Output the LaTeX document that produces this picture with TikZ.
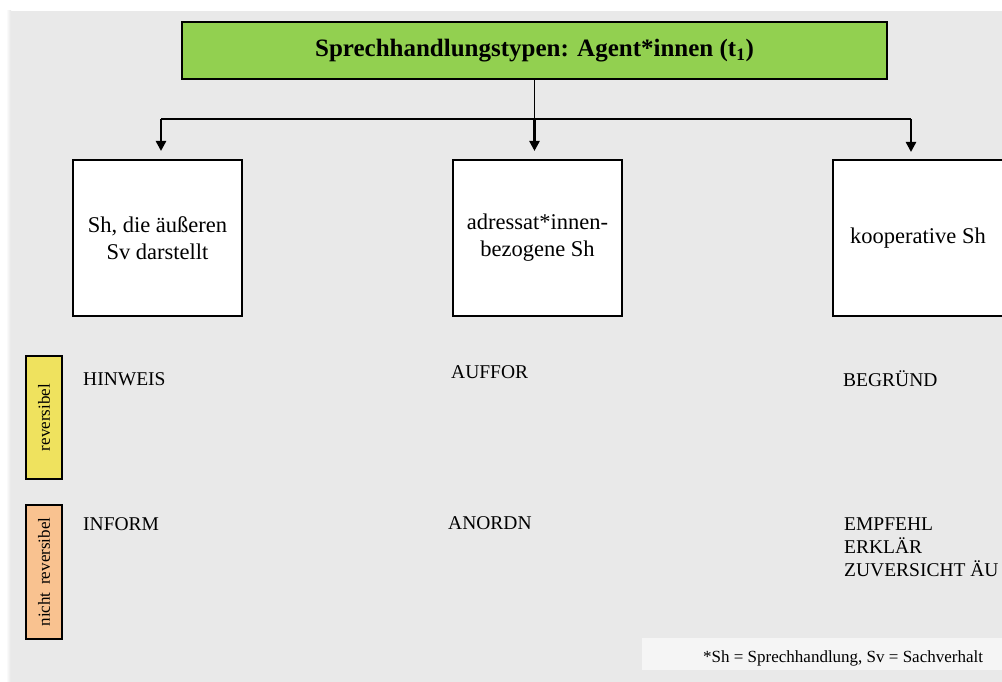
\documentclass[tikz,border=0pt]{standalone}
\usepackage{fontspec}
\setmainfont{Liberation Serif}
\usetikzlibrary{arrows.meta}
\definecolor{bggray}{HTML}{E9E9E9}
\definecolor{notegray}{HTML}{F5F5F5}
\definecolor{titlegreen}{HTML}{92D050}
\definecolor{tagyellow}{HTML}{EFE25E}
\definecolor{tagorange}{HTML}{F9C290}
\begin{document}
\begin{tikzpicture}[x=1pt,y=-1pt,
  titlebox/.style={draw=black, line width=1.3pt, fill=titlegreen, minimum width=705pt, minimum height=57pt, inner sep=0pt, font=\fontsize{25}{30}\selectfont\bfseries},
  catbox/.style={draw=black, line width=1.3pt, fill=white, minimum width=169pt, minimum height=156pt, inner sep=0pt, align=center, font=\fontsize{22.5}{27}\selectfont},
  item/.style={anchor=base west, inner sep=0pt, font=\fontsize{19.5}{23}\selectfont},
  tag/.style={draw=black, line width=1.3pt, minimum height=36pt, inner sep=0pt, rotate=90, font=\fontsize{17}{20}\selectfont},
  conn/.style={line width=1.3pt},
  arr/.style={line width=2.4pt, -{Triangle[length=10pt,width=10pt]}}
]
\useasboundingbox (0,0) rectangle (1002,682);
\clip (0,0) rectangle (1002,682);
% background
\shade[left color=white, right color=black!10] (6,11) rectangle (11,682);
\fill[bggray] (11,11) rectangle (1002,682);

% title
\node[titlebox] (title) at (534.5,50.5) {Sprechhandlungstypen: Agent*innen (t\textsubscript{1})};

% category boxes
\node[catbox] (b1) at (157.5,238) {Sh, die äußeren\\Sv darstellt};
\node[catbox] (b2) at (537.5,238) {adressat*innen-\\bezogene Sh};
\node[catbox, minimum width=170pt] (b3) at (918,238) {kooperative Sh};

% connectors
\coordinate (j1) at (161,119);
\coordinate (j2) at (title.south |- j1);
\coordinate (j3) at (911,119);
\coordinate (t1) at (161,151);
\coordinate (t2) at (title.south |- t1);
\coordinate (t3) at (911,152);
\draw[conn] (title.south) -- (j2);
\draw[conn] (j1) -- (j3);
\draw[arr] (j1) -- (t1);
\draw[arr] (j2) -- (t2);
\draw[arr] (j3) -- (t3);

% row tags
\node[tag, fill=tagyellow, minimum width=123pt] (rev) at (44,417.5) {reversibel};
\node[tag, fill=tagorange, minimum width=134pt] (nrev) at (44,572) {nicht\hspace{0.45em}reversibel};

% items
\node[item] (hinweis) at (83,385) {HINWEIS};
\node[item] (auffor) at (451,378) {AUFFOR};
\node[item] (begruend) at (843,386) {BEGRÜND};
\node[item] (inform) at (83,530) {INFORM};
\node[item] (anordn) at (448,529) {ANORDN};
\node[item] (empfehl) at (844,530) {EMPFEHL};
\node[item] (erklaer) at (844,553) {ERKLÄR};
\node[item] (zuvers) at (844,576) {ZUVERSICHT ÄU};

% footnote
\fill[notegray] (642,638) rectangle (1002,670);
\node[anchor=base west, inner sep=0pt, font=\fontsize{17}{20}\selectfont] (note) at (703,662) {*Sh = Sprechhandlung, Sv = Sachverhalt};
\end{tikzpicture}
\end{document}
